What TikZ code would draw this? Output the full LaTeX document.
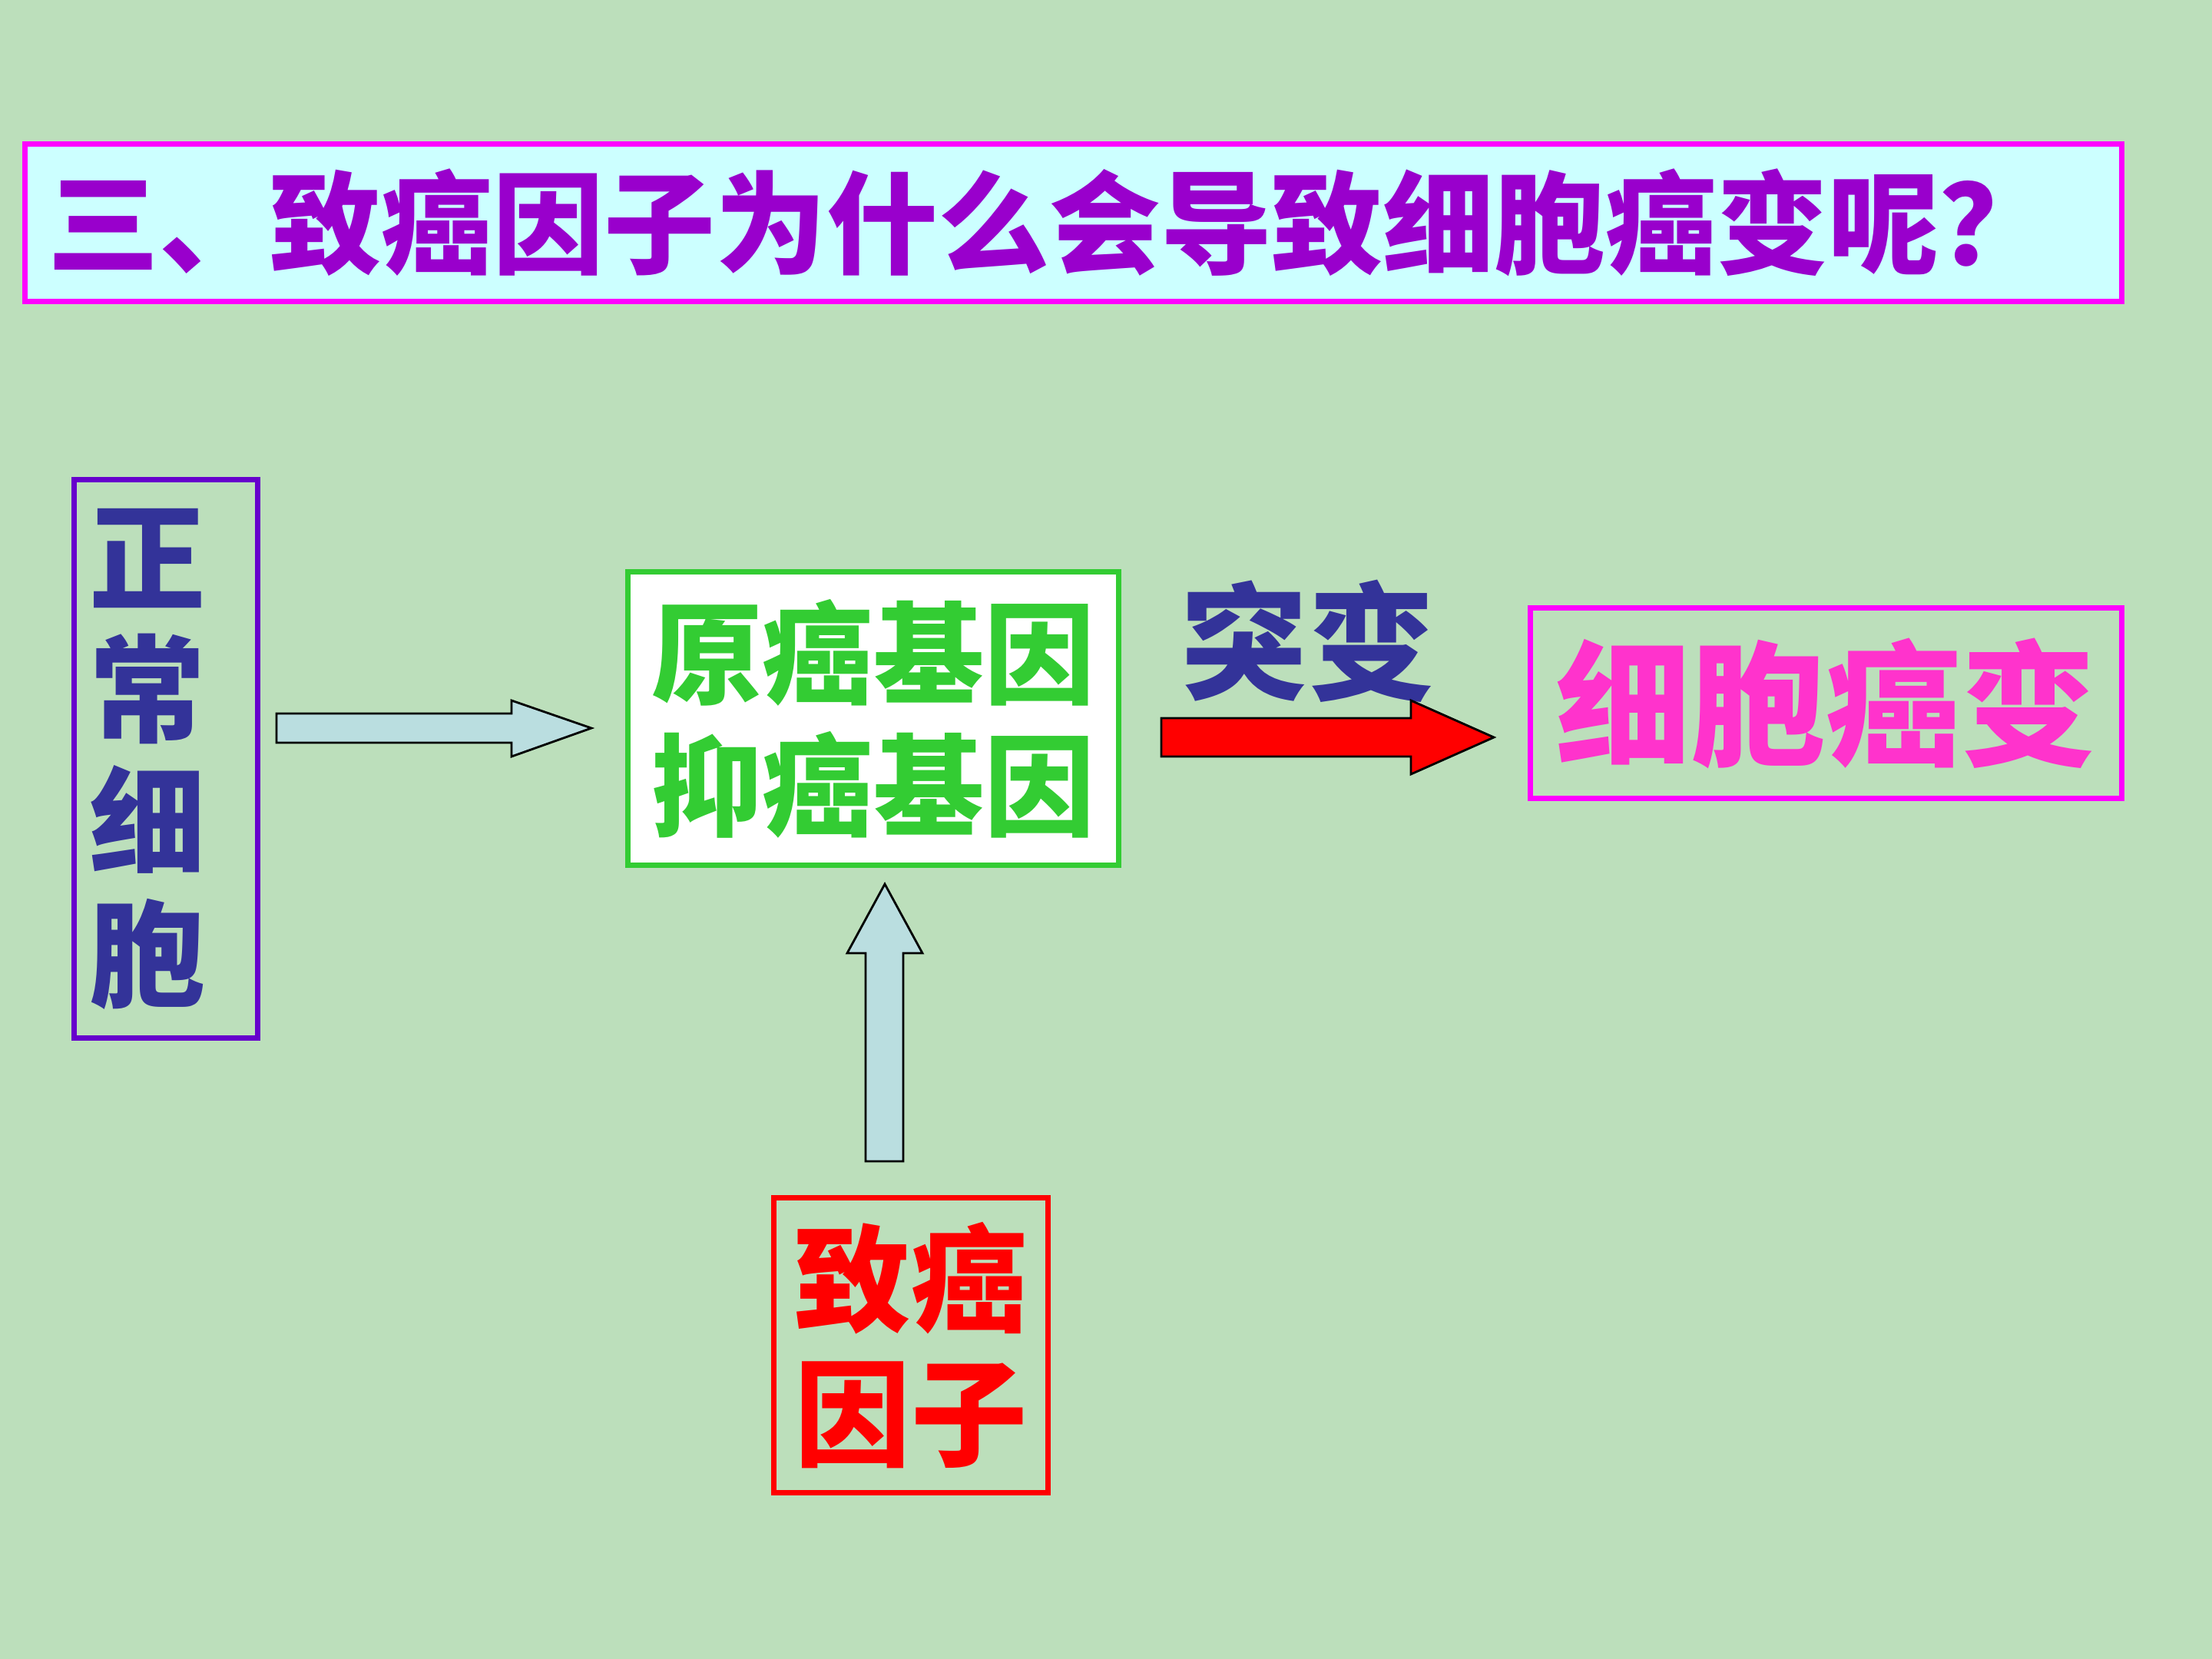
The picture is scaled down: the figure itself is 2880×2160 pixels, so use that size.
\documentclass[tikz,border=0pt]{standalone}
\usepackage{fontspec}
\newfontfamily\cjk{Noto Sans CJK SC}
\usepackage{tikz}

\definecolor{bggreen}{RGB}{188,223,187}
\definecolor{titlefill}{RGB}{204,255,255}
\definecolor{titletext}{RGB}{153,0,204}
\definecolor{cellframe}{RGB}{102,0,204}
\definecolor{navy}{RGB}{51,51,153}
\definecolor{genegreen}{RGB}{51,204,51}
\definecolor{cancerpink}{RGB}{255,51,204}
\definecolor{magentaframe}{RGB}{255,0,255}
\definecolor{arrowblue}{RGB}{186,222,224}

\begin{document}
\begin{tikzpicture}[x=0.01cm,y=-0.01cm,
    box/.style={draw,line width=2pt,inner sep=0pt},
    fatarrow/.style={draw=black,thick,fill=arrowblue,line join=miter}]
        \fill[bggreen] (0,0) rectangle (2880,2160);
        \useasboundingbox (0,0) rectangle (2880,2160);

        % title
        \node[box,draw=magentaframe,fill=titlefill,minimum height=2.04cm,
              text width=26.69cm,inner xsep=0.3cm,align=left,text=titletext,
              font=\cjk\bfseries\fontsize{41.2}{50}\selectfont] (title) at (1397.5,290)
              {三、致癌因子为什么会导致细胞癌变呢？};

        % boxes
        \node[box,draw=cellframe,minimum height=7.27cm,text width=1.99cm,inner xsep=0.2cm,
              align=left,text=navy,font=\cjk\bfseries\fontsize{43}{49}\selectfont]
              (normal) at (216,988) {正\\常\\细\\胞};
        \node[box,draw=genegreen,fill=white,minimum width=6.39cm,minimum height=3.82cm,
              align=center,text=genegreen,font=\cjk\bfseries\fontsize{41}{49}\selectfont]
              (genes) at (1137,935.5) {原癌基因\\抑癌基因};
        \node[box,draw=magentaframe,minimum width=7.70cm,minimum height=2.48cm,
              text=cancerpink,font=\cjk\bfseries\fontsize{50}{60}\selectfont]
              (cancer) at (2377.5,915.5) {细胞癌变};
        \node[box,draw=red,minimum width=3.56cm,minimum height=3.83cm,
              align=center,text=red,font=\cjk\bfseries\fontsize{43}{50}\selectfont]
              (factor) at (1186,1751.5) {致癌\\因子};
        \node[text=navy,font=\cjk\bfseries\fontsize{47}{56}\selectfont]
              (mutation) at (1703,835) {突变};

        % arrows
        \coordinate (a1s) at (360,948);
        \coordinate (a1e) at (770,948);
        \coordinate (a2s) at (1512,960);
        \coordinate (a2e) at (1945,960);
        \coordinate (a3s) at (1152,1512);
        \coordinate (a3e) at (1152,1151);

        \draw[fatarrow] (a1s) ++(0,-19) -- ++(306,0) -- ++(0,-17) -- (a1e)
            -- ++(-104,37) -- ++(0,-18) -- ++(-306,0) -- cycle;
        \draw[fatarrow,fill=red] (a2s) ++(0,-25) -- ++(325,0) -- ++(0,-23) -- (a2e)
            -- ++(-108,48) -- ++(0,-23) -- ++(-325,0) -- cycle;
        \draw[fatarrow] (a3s) ++(-25,0) -- ++(0,-271) -- ++(-24,0) -- (a3e)
            -- ++(49,90) -- ++(-25,0) -- ++(0,271) -- cycle;

    \end{tikzpicture}
\end{document}
